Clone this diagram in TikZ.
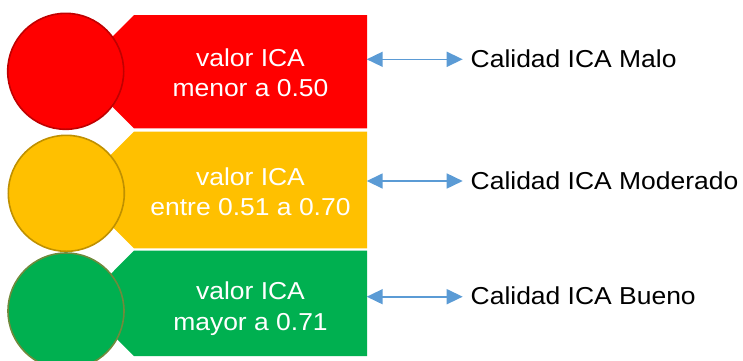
\documentclass[tikz,border=0pt]{standalone}
\usepackage{fontspec}
\setmainfont{Liberation Sans}[FakeStretch=1.08]
\usetikzlibrary{arrows.meta}
\definecolor{cRed}{HTML}{FF0000}
\definecolor{cRedB}{HTML}{C00000}
\definecolor{cYel}{HTML}{FFC000}
\definecolor{cYelB}{HTML}{BF9000}
\definecolor{cGrn}{HTML}{00B050}
\definecolor{cGrnB}{HTML}{6F8A3C}
\definecolor{cBlue}{HTML}{5B9BD5}
\tikzset{
  boxtext/.style={text=white, font=\fontsize{24.5}{30}\selectfont, align=center, inner sep=0pt, anchor=base},
  lamp/.style={circle, minimum size=116pt, inner sep=0pt, line width=1.6pt},
  labeltext/.style={text=black, font=\fontsize{24.5}{30}\selectfont, inner sep=0pt, anchor=base west},
  dblarrow/.style={draw=cBlue, line width=1.6pt, {Triangle[length=16pt,width=15pt]}-{Triangle[length=16pt,width=15pt]}}
}
\begin{document}
\begin{tikzpicture}[x=1pt, y=-1pt]
\useasboundingbox (0,0) rectangle (743,360);
% boxes
\fill[cRed] (134,15) -- (367,15) -- (367,128.3) -- (134,128.3) -- (77.4,71.7) -- cycle;
\fill[cYel] (134,131.7) -- (367,131.7) -- (367,248.3) -- (134,248.3) -- (75.7,190) -- cycle;
\fill[cGrn] (134,250.7) -- (367,250.7) -- (367,356) -- (134,356) -- (81.4,303.4) -- cycle;
% lamps
\node[lamp, fill=cRed, draw=cRedB] (c1) at (65.7,71.3) {};
\node[lamp, fill=cYel, draw=cYelB] (c2) at (66.3,193.3) {};
\node[lamp, fill=cGrn, draw=cGrnB] (c3) at (66,311) {};
% box texts
\node[boxtext] (t1a) at (250.5,66.7) {valor ICA};
\node[boxtext] (t1b) at (250.5,96.7) {menor a 0.50};
\node[boxtext] (t2a) at (250.5,185) {valor ICA};
\node[boxtext] (t2b) at (250.5,215.7) {entre 0.51 a 0.70};
\node[boxtext] (t3a) at (250.5,299.5) {valor ICA};
\node[boxtext] (t3b) at (250.5,330.7) {mayor a 0.71};
% arrows and labels
\coordinate (a1) at (366.7,59.3);
\coordinate (b1) at (462.7,59.3);
\coordinate (a2) at (366.7,181);
\coordinate (b2) at (462.7,181);
\coordinate (a3) at (366.7,296.7);
\coordinate (b3) at (462.7,296.7);
\draw[dblarrow] (a1) -- (b1);
\draw[dblarrow] (a2) -- (b2);
\draw[dblarrow] (a3) -- (b3);
\node[labeltext] (l1) at (470.5,67.3) {Calidad ICA Malo};
\node[labeltext] (l2) at (470.5,189) {Calidad ICA Moderado};
\node[labeltext] (l3) at (470.5,304.7) {Calidad ICA Bueno};
\end{tikzpicture}
\end{document}
